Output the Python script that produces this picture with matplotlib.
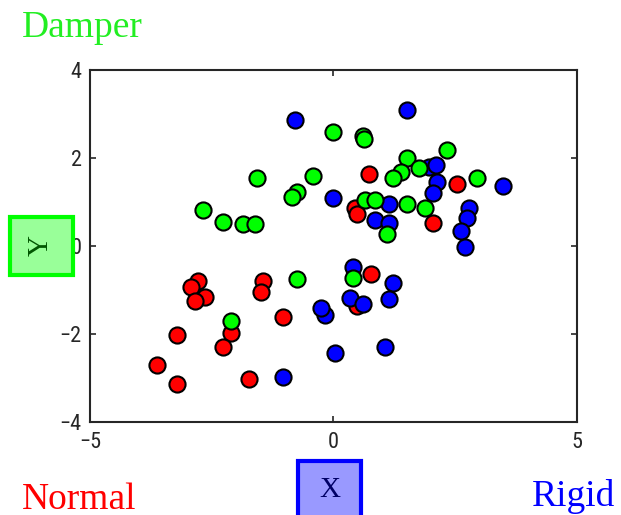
import matplotlib.pyplot as plt
from matplotlib.patches import Rectangle

# data
normal_x = [0.73, 2.54, 0.44, 0.48, 2.04, -2.78, -2.93, -2.64, -2.84, -1.45,
            -1.49, -1.04, -2.10, -2.27, -3.21, -3.62, -3.21, -1.73, 0.77, 0.48]
normal_y = [1.64, 1.41, 0.86, 0.73, 0.52, -0.80, -0.93, -1.16, -1.25, -0.80,
            -1.05, -1.61, -1.97, -2.29, -2.02, -2.70, -3.14, -3.02, -0.64, -1.36]

rigid_x = [-0.79, 1.51, -0.01, 1.96, 2.10, 2.13, 2.04, 3.48, 1.14, 0.85,
           1.14, 2.78, 2.74, 2.62, 2.70, 0.40, 0.34, 0.61, 1.22, 1.14,
           -0.17, -0.26, 0.03, 1.06, -1.04]
rigid_y = [2.86, 3.09, 1.09, 1.80, 1.84, 1.45, 1.20, 1.36, 0.95, 0.59,
           0.52, 0.86, 0.64, 0.34, -0.03, -0.48, -1.18, -1.32, -0.84, -1.20,
           -1.57, -1.41, -2.43, -2.30, -2.98]

damper_x = [0.0, 0.61, 0.63, 2.33, 1.51, 1.75, 1.39, 1.23, 2.95, -1.58,
            -0.42, -0.75, -0.85, 0.65, 0.85, 1.51, 1.88, 1.10, -2.68, -2.27,
            -1.86, -1.61, -0.75, -2.10, 0.40]
damper_y = [2.59, 2.50, 2.44, 2.18, 2.0, 1.77, 1.68, 1.55, 1.55, 1.54,
            1.59, 1.23, 1.12, 1.05, 1.05, 0.95, 0.86, 0.27, 0.82, 0.55,
            0.50, 0.50, -0.75, -1.70, -0.73]

fig = plt.figure(figsize=(6.21, 5.15), dpi=100)
ax = fig.add_axes([0.1449, 0.1806, 0.7842, 0.6835])

ax.scatter(normal_x, normal_y, s=135, c='#ff0000', edgecolors='black', linewidths=1.5, zorder=3)
ax.scatter(rigid_x, rigid_y, s=135, c='#0000ff', edgecolors='black', linewidths=1.5, zorder=3)
ax.scatter(damper_x, damper_y, s=135, c='#00ff00', edgecolors='black', linewidths=1.5, zorder=3)

ax.set_xlim(-5, 5)
ax.set_ylim(-4, 4)
ax.set_xticks([-5, 0, 5])
ax.set_yticks([-4, -2, 0, 2, 4])
ax.tick_params(direction='in', top=True, right=True, length=4, width=1.2,
               labelsize=16, colors='#262626')
ax.tick_params(axis='x', pad=7)
ax.tick_params(axis='y', pad=6)
for lab in ax.get_xticklabels() + ax.get_yticklabels():
    lab.set_fontfamily(['Liberation Sans Narrow', 'Roboto Condensed', 'Roboto'])
for sp in ax.spines.values():
    sp.set_linewidth(1.5)
    sp.set_color('#262626')

# corner labels
serif = 'Liberation Serif'
fig.text(22 / 621, 1 - 37 / 515, 'Damper', color='#22ee22', fontsize=27, family=serif)
fig.text(22 / 621, 1 - 509 / 515, 'Normal', color='#ff0000', fontsize=27, family=serif)
fig.text(615 / 621, 1 - 506 / 515, 'Rigid', color='#0000ff', fontsize=27, family=serif, ha='right')

# axis label boxes
fig.patches.append(Rectangle((298 / 621, 1 - 520 / 515), 63 / 621, 59 / 515,
                             transform=fig.transFigure, facecolor='#9999ff',
                             edgecolor='#0000ff', linewidth=3))
fig.text(329.5 / 621, 1 - 490 / 515, 'X', color='#000066', fontsize=21, family=serif,
         ha='center', va='center')
fig.patches.append(Rectangle((10 / 621, 1 - 275 / 515), 63 / 621, 58 / 515,
                             transform=fig.transFigure, facecolor='#99ff99',
                             edgecolor='#00ff00', linewidth=3))
fig.text(41 / 621, 1 - 246 / 515, 'Y', color='#005500', fontsize=21, family=serif,
         ha='center', va='center', rotation=90)

fig.savefig('out.png', dpi=100)
